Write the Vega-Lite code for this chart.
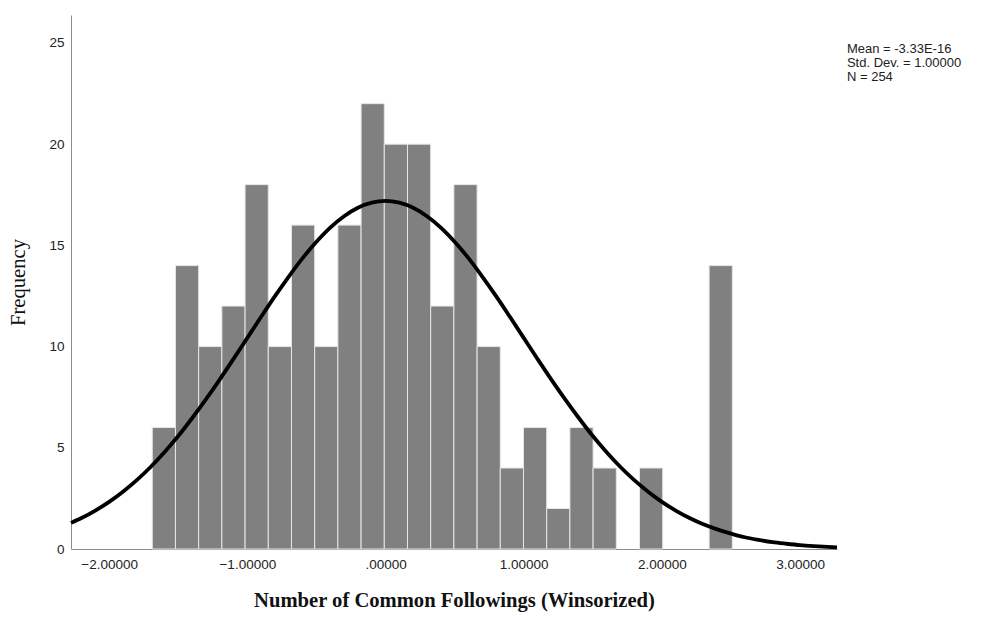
{
  "$schema": "https://vega.github.io/schema/vega-lite/v6.json",
  "autosize": {"type": "none"},
  "width": 766,
  "height": 534,
  "padding": {"left": 71, "top": 15, "right": 144, "bottom": 68},
  "background": "white",
  "config": {
    "view": {"stroke": null},
    "axis": {
      "grid": false,
      "ticks": false,
      "tickSize": 0,
      "domainColor": "#8c8c8c",
      "domainWidth": 1,
      "labelFont": "Liberation Sans",
      "labelFontSize": 13.5,
      "labelColor": "#222222",
      "titleColor": "#111111",
      "titleFont": "Liberation Serif",
      "titleFontSize": 20.6
    }
  },
  "layer": [
    {
      "data": {
        "values": [
          {"x0": -1.688, "x1": -1.5201, "count": 6},
          {"x0": -1.5201, "x1": -1.3522, "count": 14},
          {"x0": -1.3522, "x1": -1.1843, "count": 10},
          {"x0": -1.1843, "x1": -1.0164, "count": 12},
          {"x0": -1.0164, "x1": -0.8485, "count": 18},
          {"x0": -0.8485, "x1": -0.6806, "count": 10},
          {"x0": -0.6806, "x1": -0.5127, "count": 16},
          {"x0": -0.5127, "x1": -0.3448, "count": 10},
          {"x0": -0.3448, "x1": -0.1769, "count": 16},
          {"x0": -0.1769, "x1": -0.009, "count": 22},
          {"x0": -0.009, "x1": 0.1589, "count": 20},
          {"x0": 0.1589, "x1": 0.3268, "count": 20},
          {"x0": 0.3268, "x1": 0.4947, "count": 12},
          {"x0": 0.4947, "x1": 0.6626, "count": 18},
          {"x0": 0.6626, "x1": 0.8305, "count": 10},
          {"x0": 0.8305, "x1": 0.9984, "count": 4},
          {"x0": 0.9984, "x1": 1.1663, "count": 6},
          {"x0": 1.1663, "x1": 1.3342, "count": 2},
          {"x0": 1.3342, "x1": 1.5021, "count": 6},
          {"x0": 1.5021, "x1": 1.67, "count": 4},
          {"x0": 1.8379, "x1": 2.0058, "count": 4},
          {"x0": 2.3416, "x1": 2.5095, "count": 14}
        ]
      },
      "mark": {"type": "bar", "fill": "#808080", "stroke": "#e6e6e6", "strokeWidth": 1},
      "encoding": {
        "x": {
          "field": "x0",
          "type": "quantitative",
          "scale": {"domain": [-2.276, 3.267], "nice": false, "zero": false},
          "axis": {
            "values": [-2, -1, 0, 1, 2, 3],
            "labelExpr": "datum.value == 0 ? '.00000' : format(datum.value, '.5f')",
            "labelPadding": 8,
            "title": "Number of Common Followings (Winsorized)",
            "titleFontWeight": "bold",
            "titlePadding": 20
          }
        },
        "x2": {"field": "x1"},
        "y": {
          "field": "count",
          "type": "quantitative",
          "scale": {"domain": [0, 26.38], "nice": false},
          "axis": {
            "values": [0, 5, 10, 15, 20, 25],
            "labelPadding": 7,
            "title": "Frequency",
            "titleFontWeight": "normal",
            "titlePadding": 20
          }
        },
        "y2": {"datum": 0}
      }
    },
    {
      "data": {
        "values": [
          {"x": -2.276, "f": 1.29},
          {"x": -2.2, "f": 1.53},
          {"x": -2.1, "f": 1.90},
          {"x": -2.0, "f": 2.33},
          {"x": -1.9, "f": 2.83},
          {"x": -1.8, "f": 3.40},
          {"x": -1.7, "f": 4.05},
          {"x": -1.6, "f": 4.78},
          {"x": -1.5, "f": 5.58},
          {"x": -1.4, "f": 6.46},
          {"x": -1.3, "f": 7.39},
          {"x": -1.2, "f": 8.37},
          {"x": -1.1, "f": 9.39},
          {"x": -1.0, "f": 10.43},
          {"x": -0.9, "f": 11.47},
          {"x": -0.8, "f": 12.49},
          {"x": -0.7, "f": 13.46},
          {"x": -0.6, "f": 14.37},
          {"x": -0.5, "f": 15.18},
          {"x": -0.4, "f": 15.88},
          {"x": -0.3, "f": 16.44},
          {"x": -0.2, "f": 16.86},
          {"x": -0.1, "f": 17.11},
          {"x": 0.0, "f": 17.2},
          {"x": 0.1, "f": 17.11},
          {"x": 0.2, "f": 16.86},
          {"x": 0.3, "f": 16.44},
          {"x": 0.4, "f": 15.88},
          {"x": 0.5, "f": 15.18},
          {"x": 0.6, "f": 14.37},
          {"x": 0.7, "f": 13.46},
          {"x": 0.8, "f": 12.49},
          {"x": 0.9, "f": 11.47},
          {"x": 1.0, "f": 10.43},
          {"x": 1.1, "f": 9.39},
          {"x": 1.2, "f": 8.37},
          {"x": 1.3, "f": 7.39},
          {"x": 1.4, "f": 6.46},
          {"x": 1.5, "f": 5.58},
          {"x": 1.6, "f": 4.78},
          {"x": 1.7, "f": 4.05},
          {"x": 1.8, "f": 3.40},
          {"x": 1.9, "f": 2.83},
          {"x": 2.0, "f": 2.33},
          {"x": 2.1, "f": 1.90},
          {"x": 2.2, "f": 1.53},
          {"x": 2.3, "f": 1.22},
          {"x": 2.4, "f": 0.97},
          {"x": 2.5, "f": 0.76},
          {"x": 2.6, "f": 0.58},
          {"x": 2.7, "f": 0.45},
          {"x": 2.8, "f": 0.34},
          {"x": 2.9, "f": 0.26},
          {"x": 3.0, "f": 0.19},
          {"x": 3.1, "f": 0.14},
          {"x": 3.2, "f": 0.10},
          {"x": 3.267, "f": 0.08}
        ]
      },
      "mark": {"type": "line", "color": "black", "strokeWidth": 3.8, "interpolate": "monotone", "strokeCap": "butt"},
      "encoding": {
        "x": {"field": "x", "type": "quantitative"},
        "y": {"field": "f", "type": "quantitative"}
      }
    },
    {
      "data": {"values": [{}]},
      "mark": {
        "type": "text",
        "align": "left",
        "baseline": "alphabetic",
        "font": "Liberation Sans",
        "fontSize": 13,
        "lineHeight": 14,
        "color": "#222222"
      },
      "encoding": {
        "x": {"datum": 3.339, "type": "quantitative"},
        "y": {"datum": 24.51, "type": "quantitative"},
        "text": {"value": ["Mean = -3.33E-16", "Std. Dev. = 1.00000", "N = 254"]}
      }
    }
  ]
}
